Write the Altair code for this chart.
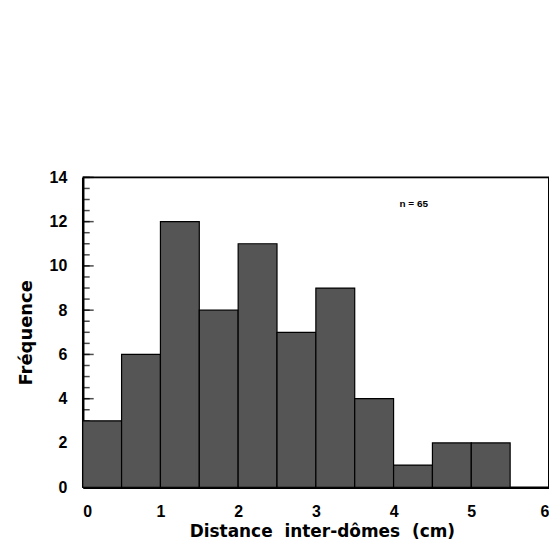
import altair as alt
import pandas as pd

bin_start = [0.0, 0.5, 1.0, 1.5, 2.0, 2.5, 3.0, 3.5, 4.0, 4.5, 5.0]
counts = [3, 6, 12, 8, 11, 7, 9, 4, 1, 2, 2]
bin_width = 0.5
y_major = [0, 2, 4, 6, 8, 10, 12, 14]
y_minor = [v / 2 for v in range(0, 29)]
x_ticks = [0, 1, 2, 3, 4, 5, 6]
note_text = ["n = 65"]
note_x = [4.26]
note_y = [12.8]
x_title = "Distance\u00a0\u00a0inter-dômes\u00a0\u00a0(cm)"
y_title = "Fréquence"

df = pd.DataFrame({
    "x": bin_start,
    "x2": [b + bin_width for b in bin_start],
    "count": counts,
})

FONT = "Liberation Sans"
TFONT = "DejaVu Sans"

xscale = alt.Scale(domain=[0, 6], nice=False, zero=False)
yscale = alt.Scale(domain=[0, 14], nice=False)

bars = alt.Chart(df).mark_rect(
    color="#555555", stroke="#000000", strokeWidth=1.2
).encode(
    x=alt.X("x:Q", scale=xscale,
            axis=alt.Axis(values=x_ticks, title=x_title,
                          format="d", ticks=False, labelPadding=16,
                          domainColor="black", domainWidth=2.5,
                          labelFont=FONT, labelFontSize=16, labelFontWeight="bold",
                          labelColor="black", grid=False,
                          titleFont=TFONT, titleFontSize=17, titleFontWeight="bold",
                          titleColor="black", titlePadding=4, titleX=240)),
    x2="x2:Q",
    y=alt.Y("count:Q", scale=yscale,
            axis=alt.Axis(values=y_major, title=y_title, ticks=False,
                          labelPadding=16, domainColor="black", domainWidth=2.5,
                          labelFont=FONT, labelFontSize=16, labelFontWeight="bold",
                          labelColor="black", grid=False,
                          titleFont=TFONT, titleFontSize=18, titleFontWeight="bold",
                          titleColor="black", titlePadding=14)),
    y2=alt.datum(0),
)

minor = alt.Chart(pd.DataFrame({"v": y_minor})).mark_tick(
    color="black", thickness=1.5, size=7
).encode(
    y=alt.Y("v:Q", scale=yscale),
    x=alt.value(3.5),
)

major = alt.Chart(pd.DataFrame({"v": y_major})).mark_tick(
    color="black", thickness=1.5, size=11
).encode(
    y=alt.Y("v:Q", scale=yscale),
    x=alt.value(5.5),
)

top_edge = alt.Chart(pd.DataFrame({"a": [0]})).mark_rule(
    color="black", strokeWidth=2
).encode(
    x=alt.datum(0, scale=xscale), x2=alt.datum(6), y=alt.datum(14, scale=yscale)
)

right_edge = alt.Chart(pd.DataFrame({"a": [0]})).mark_rule(
    color="black", strokeWidth=2
).encode(
    x=alt.datum(6, scale=xscale), y=alt.datum(0, scale=yscale), y2=alt.datum(14)
)

note = alt.Chart(pd.DataFrame({"t": note_text, "x": note_x, "y": note_y})).mark_text(
    font=FONT, fontSize=10, fontWeight="bold", color="black"
).encode(
    x=alt.X("x:Q", scale=xscale),
    y=alt.Y("y:Q", scale=yscale),
    text="t:N",
)

chart = alt.layer(minor, major, bars, top_edge, right_edge, note).properties(
    width=468, height=311,
    padding={"left": 75, "top": 169, "right": 0, "bottom": 60},
    autosize=alt.AutoSizeParams(type="none"),
).configure_view(
    stroke=None
).configure(background="white")

chart.save("out.html", embed_options={"renderer": "svg", "actions": False})
